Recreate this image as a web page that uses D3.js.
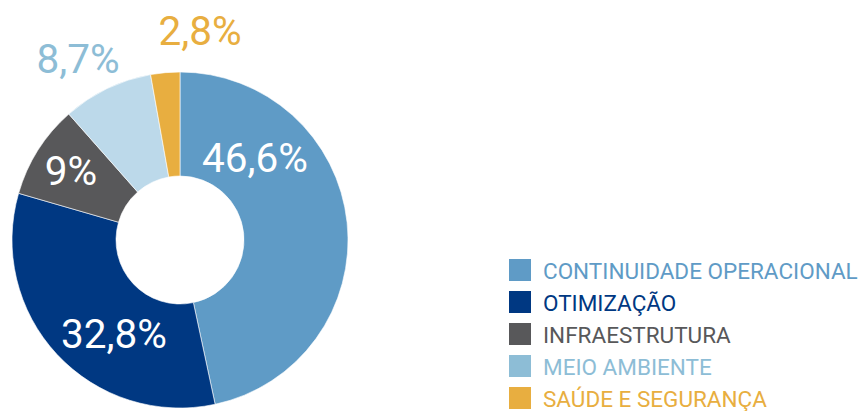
<!DOCTYPE html>
<html>
<head>
<meta charset="utf-8">
<script src="https://cdn.jsdelivr.net/npm/d3@7"></script>
<style>
  body { margin: 0; background: #fff; }
  svg { display: block; font-family: Roboto, "Noto Sans", sans-serif; }
</style>
</head>
<body>
<div id="donut"></div>
<script>
const categories = ["CONTINUIDADE OPERACIONAL", "OTIMIZAÇÃO", "INFRAESTRUTURA", "MEIO AMBIENTE", "SAÚDE E SEGURANÇA"];
const values = [46.6, 32.8, 9, 8.7, 2.8];
const valueLabels = ["46,6%", "32,8%", "9%", "8,7%", "2,8%"];

const sliceColors = ["#5f9bc6", "#003882", "#58585a", "#bcd9ea", "#e8ae40"];
const legendColors = ["#5f9bc6", "#003882", "#58585a", "#8dbdd6", "#e8ae40"];
const labelColors = ["#fff", "#fff", "#fff", "#8dbdd6", "#e8ae40"];
// label offsets from donut centre (placed by hand in the original)
const labelOffsets = [[75, -68], [-66, 108], [-109, -55], [-102, -167], [20, -195]];

const width = 860, height = 411;
const cx = 180, cy = 240, outerR = 168, innerR = 64;

const svg = d3.select("#donut")
              .append("svg")
              .attr("width", width)
              .attr("height", height);

const pie = d3.pie().sort(null).value(d => d);
const arc = d3.arc().innerRadius(innerR).outerRadius(outerR);

const chart = svg.append("g")
                 .attr("transform", `translate(${cx}, ${cy})`);

chart.selectAll("path")
     .data(pie(values))
     .join("path")
     .attr("d", arc)
     .attr("fill", (d, i) => sliceColors[i])
     .attr("stroke", "#fff")
     .attr("stroke-width", 0.6);

chart.selectAll("text")
     .data(valueLabels)
     .join("text")
     .attr("x", (d, i) => labelOffsets[i][0])
     .attr("y", (d, i) => labelOffsets[i][1])
     .attr("text-anchor", "middle")
     .attr("fill", (d, i) => labelColors[i])
     .style("font-size", "40.5px")
     .text(d => d);

const legend = svg.append("g")
                  .attr("transform", "translate(509, 259)");

legend.selectAll("rect")
      .data(categories)
      .join("rect")
      .attr("x", 0)
      .attr("y", (d, i) => i * 32)
      .attr("width", 22)
      .attr("height", 22)
      .attr("fill", (d, i) => legendColors[i]);

legend.selectAll("text")
      .data(categories)
      .join("text")
      .attr("x", 34)
      .attr("y", (d, i) => i * 32 + 20)
      .attr("fill", (d, i) => legendColors[i])
      .style("font-size", "22.5px")
      .text(d => d);
</script>
</body>
</html>
